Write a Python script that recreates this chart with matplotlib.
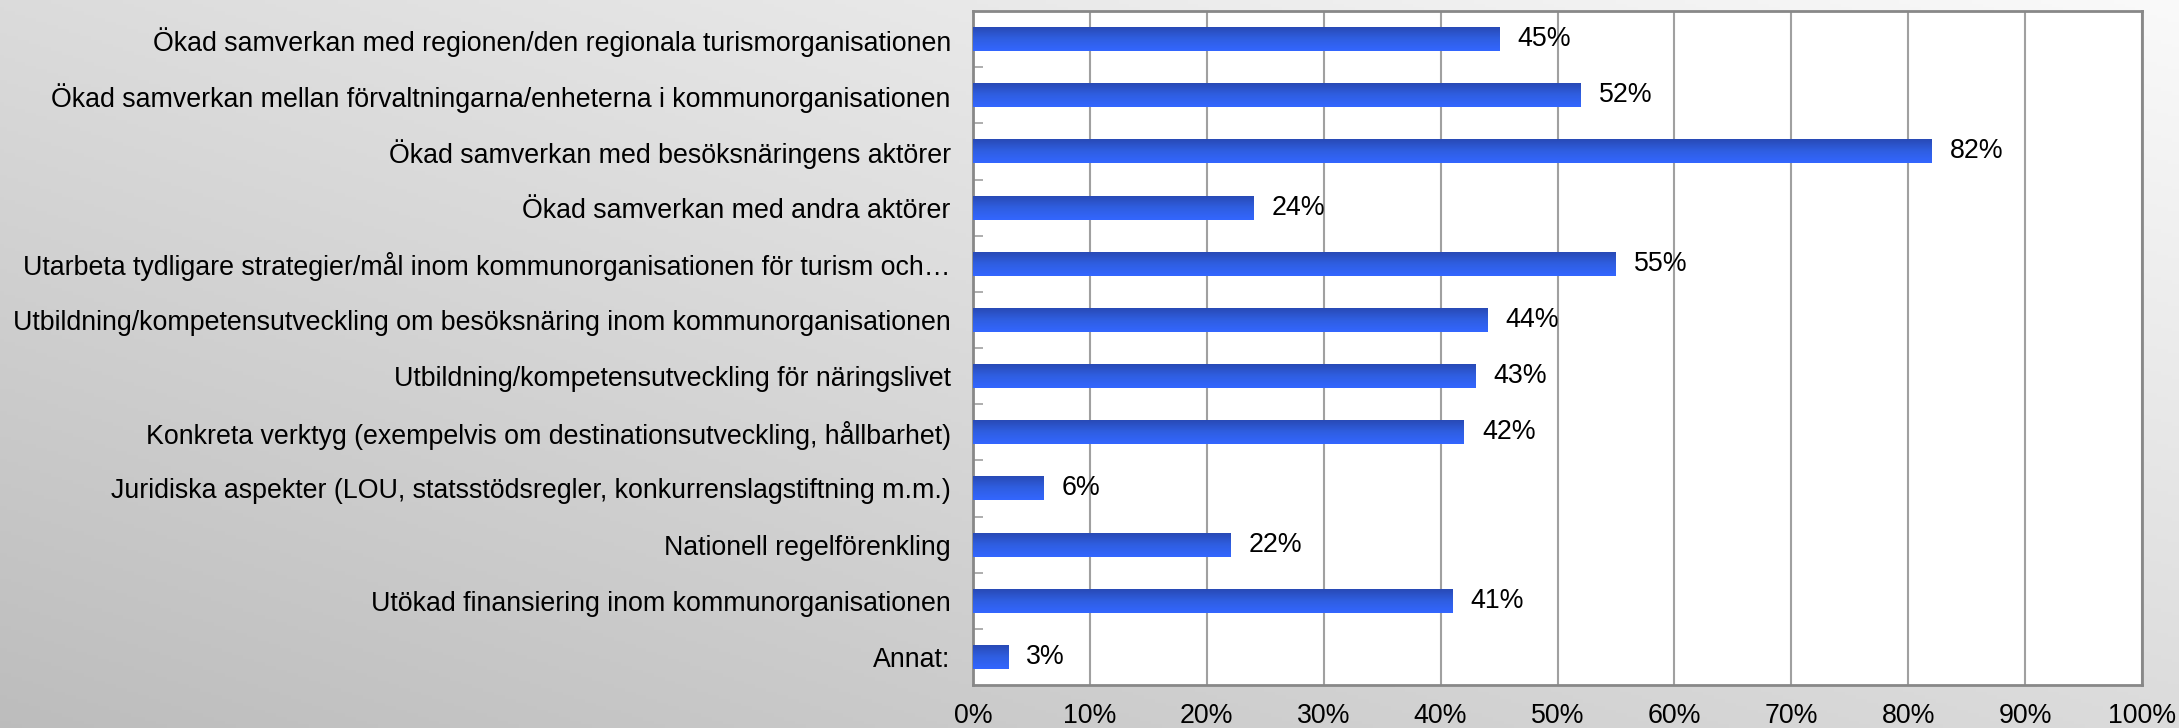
import numpy as np
import matplotlib
matplotlib.use("Agg")
import matplotlib.pyplot as plt
from matplotlib.colors import LinearSegmentedColormap

categories = [
    "Ökad samverkan med regionen/den regionala turismorganisationen",
    "Ökad samverkan mellan förvaltningarna/enheterna i kommunorganisationen",
    "Ökad samverkan med besöksnäringens aktörer",
    "Ökad samverkan med andra aktörer",
    "Utarbeta tydligare strategier/mål inom kommunorganisationen för turism och…",
    "Utbildning/kompetensutveckling om besöksnäring inom kommunorganisationen",
    "Utbildning/kompetensutveckling för näringslivet",
    "Konkreta verktyg (exempelvis om destinationsutveckling, hållbarhet)",
    "Juridiska aspekter (LOU, statsstödsregler, konkurrenslagstiftning m.m.)",
    "Nationell regelförenkling",
    "Utökad finansiering inom kommunorganisationen",
    "Annat:",
]
values = [45, 52, 82, 24, 55, 44, 43, 42, 6, 22, 41, 3]
xticks = [0, 10, 20, 30, 40, 50, 60, 70, 80, 90, 100]
xtick_labels = [f"{v}%" for v in xticks]

plt.rcParams['font.family'] = ['Liberation Sans', 'DejaVu Sans']
FS = 19.3

W, H, DPI = 2179, 728, 100
fig = plt.figure(figsize=(W / DPI, H / DPI), dpi=DPI)

# background gradient
bg = fig.add_axes([0, 0, 1, 1], zorder=-10)
yy, xx = np.mgrid[0:1:200j, 0:1:600j]
g = 0.74 + 0.12 * xx + 0.12 * (1 - yy)
g = np.clip(g, 0, 1)
bg.imshow(np.dstack([g, g, g]), aspect='auto', extent=[0, 1, 0, 1], origin='upper')
bg.set_axis_off()

ax = fig.add_axes([973 / W, (H - 685) / H, (2142 - 973) / W, (685 - 11) / H])
ax.set_facecolor('white')

n = len(categories)
ypos = np.arange(n)
bar_h = 0.43
bars = ax.barh(ypos, values, height=bar_h, color='none', edgecolor='none', zorder=3)

cmap = LinearSegmentedColormap.from_list('blu', ['#2848b2', '#2f5ee0', '#3366ff'])
grad = np.linspace(0, 1, 64).reshape(-1, 1)
for b in bars:
    x0, y0 = b.get_x(), b.get_y()
    w, h = b.get_width(), b.get_height()
    im = ax.imshow(grad, cmap=cmap, aspect='auto',
                   extent=[x0, x0 + w, y0 + h, y0], origin='upper', zorder=3)
    im.set_clip_path(b)

for yv, v in zip(ypos, values):
    ax.annotate(f"{v}%", xy=(v, yv), xytext=(13, 0), textcoords='offset points',
                ha='left', va='center', fontsize=FS, color='black', zorder=5)

ax.set_xlim(0, 100)
ax.set_ylim(n - 0.5, -0.5)
ax.set_xticks(xticks)
ax.set_xticklabels(xtick_labels, fontsize=FS)
ax.set_yticks(ypos)
ax.set_yticklabels(categories, fontsize=FS)
ax.set_yticks(np.arange(n - 1) + 0.5, minor=True)
ax.tick_params(axis='y', which='major', length=0, pad=16)
ax.tick_params(axis='y', which='minor', length=7, width=1.2, color='#a0a0a0', direction='in')
ax.tick_params(axis='x', which='major', length=0, pad=13)
ax.grid(axis='x', color='#a0a0a0', linewidth=1.5, zorder=1)
ax.set_axisbelow(True)
for s in ax.spines.values():
    s.set_color('#888888')
    s.set_linewidth(2)

fig.savefig('out.png', dpi=DPI)
